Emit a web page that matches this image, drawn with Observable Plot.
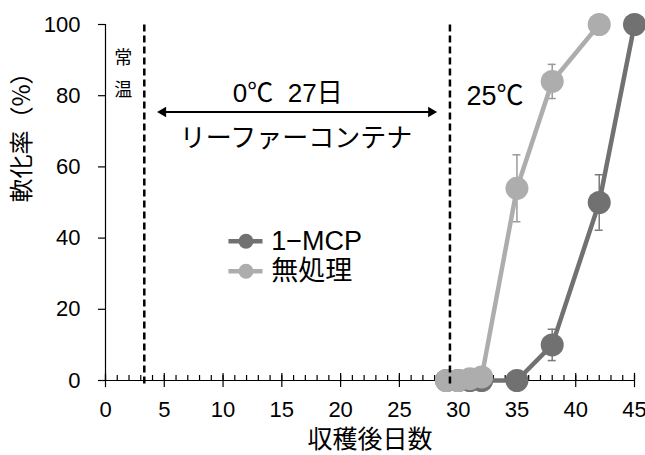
<!DOCTYPE html>
<html>
<head>
<meta charset="utf-8">
<script src="https://cdn.jsdelivr.net/npm/d3@7"></script>
<script src="https://cdn.jsdelivr.net/npm/@observablehq/plot@0.6"></script>
<style>
  html, body { margin: 0; padding: 0; background: #fff; }
</style>
</head>
<body>
<div id="chart"></div>
<script>
// ---- data ----
const mcpDays = [29, 30, 31, 32, 35, 38, 42, 45];
const mcpValues = [0, 0, 0, 0, 0, 10, 50, 100];
const mcpErrors = [0, 0, 0, 0, 0, 4.4, 7.8, 0];

const ctrlDays = [29, 30, 31, 32, 35, 38, 42];
const ctrlValues = [0, 0, 0.5, 1, 54, 84, 100];
const ctrlErrors = [0, 0, 0, 0, 9.4, 4.8, 0];

const seriesNames = ["1\u2212MCP", "無処理"];
const xTicks = [0, 5, 10, 15, 20, 25, 30, 35, 40, 45];
const xMinorTicks = d3.range(0, 46);
const yTicks = [0, 20, 40, 60, 80, 100];
const dividerDays = [3.3, 29.3];

// annotation anchors (data space)
const labelRoom = {x: 1.5, y1: 90.4, y2: 81.5, t1: "常", t2: "温"};
const label0C = {x: 15.5, y: 80.6, text: "0℃\u00a0\u00a027日"};
const labelReefer = {x: 16.2, y: 68, text: "リーファーコンテナ"};
const label25C = {x: 30.7, y: 79.8, text: "25℃"};
const arrowSpan = {x1: 4.9, x2: 27.7, y: 75.4};
const legendRows = [{y: 39.1}, {y: 30.7}];
const legendX = {x1: 10.5, x2: 13.4, dot: 11.95, text: 14.1};

const colors = ["#717171", "#adadad"];
const errColors = ["#7a7a7a", "#9a9a9a"];

const mcp = mcpDays.map((d, i) => ({day: d, v: mcpValues[i], e: mcpErrors[i]}));
const ctrl = ctrlDays.map((d, i) => ({day: d, v: ctrlValues[i], e: ctrlErrors[i]}));

function errMarks(data, color) {
  const eb = data.filter(d => d.e > 0).map(d => ({day: d.day, lo: d.v - d.e, hi: d.v + d.e}));
  return [
    Plot.ruleX(eb, {x: "day", y1: "lo", y2: "hi", stroke: color, strokeWidth: 1.5}),
    Plot.ruleY(eb, {y: "hi", x1: "day", x2: "day", insetLeft: -4, insetRight: -4, stroke: color, strokeWidth: 1.5}),
    Plot.ruleY(eb, {y: "lo", x1: "day", x2: "day", insetLeft: -4, insetRight: -4, stroke: color, strokeWidth: 1.5})
  ];
}

const font = "'Liberation Sans', Arial, 'Noto Sans CJK JP', sans-serif";
const cjk = "'Noto Sans CJK JP', 'Liberation Sans', sans-serif";

const chart = Plot.plot({
  width: 645,
  height: 455,
  marginLeft: 105,
  marginRight: 11,
  marginTop: 24,
  marginBottom: 75,
  style: {fontFamily: font, fontSize: "22px", color: "#000", background: "#fff"},
  x: {domain: [0, 45]},
  y: {domain: [0, 100]},
  marks: [
    // axes
    Plot.axisY(yTicks, {tickSize: 7, tickPadding: 18, fontSize: 22, label: null, stroke: "#000", strokeWidth: 1.2}),
    Plot.axisX(xTicks, {tickSize: 0, tickPadding: 21, fontSize: 22, label: null}),
    Plot.ruleX([0], {y1: 0, y2: 100, stroke: "#000", strokeWidth: 1.2}),
    Plot.ruleY([0], {x1: 0, x2: 45, stroke: "#000", strokeWidth: 1.2}),
    Plot.ruleX(xMinorTicks, {y1: 0, y2: 1.4, stroke: "#000", strokeWidth: 1.2}),
    Plot.ruleX(xTicks, {y1: -2, y2: 2, stroke: "#000", strokeWidth: 1.2}),
    // axis titles
    Plot.text(["軟化率（%）"], {frameAnchor: "left", dx: -83, rotate: -90, fontSize: 24, fontFamily: cjk}),
    Plot.text(["収穫後日数"], {frameAnchor: "bottom", lineAnchor: "middle", dy: 59, fontSize: 25, fontFamily: cjk}),
    // error bars
    ...errMarks(mcp, errColors[0]),
    ...errMarks(ctrl, errColors[1]),
    // series
    Plot.line(mcp, {x: "day", y: "v", stroke: colors[0], strokeWidth: 4.5}),
    Plot.dot(mcp, {x: "day", y: "v", r: 11.5, fill: colors[0]}),
    Plot.line(ctrl, {x: "day", y: "v", stroke: colors[1], strokeWidth: 4.5}),
    Plot.dot(ctrl, {x: "day", y: "v", r: 11.5, fill: colors[1]}),
    // dividers
    Plot.ruleX(dividerDays, {y1: -1, y2: 100, stroke: "#000", strokeWidth: 2.5, strokeDasharray: "7,4"}),
    // annotations
    Plot.text([labelRoom.t1], {x: labelRoom.x, y: labelRoom.y1, fontSize: 18, fontFamily: cjk}),
    Plot.text([labelRoom.t2], {x: labelRoom.x, y: labelRoom.y2, fontSize: 18, fontFamily: cjk}),
    Plot.text([label0C.text], {x: label0C.x, y: label0C.y, fontSize: 26}),
    Plot.text([labelReefer.text], {x: labelReefer.x, y: labelReefer.y, fontSize: 26, fontFamily: cjk}),
    Plot.text([label25C.text], {x: label25C.x, y: label25C.y, fontSize: 27, textAnchor: "start"}),
    Plot.ruleY([arrowSpan.y], {x1: arrowSpan.x1, x2: arrowSpan.x2, stroke: "#000", strokeWidth: 2}),
    Plot.dot([arrowSpan.x1], {x: d => d, y: arrowSpan.y, symbol: "triangle2", r: 5, rotate: -90, fill: "#000"}),
    Plot.dot([arrowSpan.x2], {x: d => d, y: arrowSpan.y, symbol: "triangle2", r: 5, rotate: 90, fill: "#000"}),
    // legend
    Plot.ruleY(legendRows, {y: "y", x1: legendX.x1, x2: legendX.x2, stroke: (d, i) => colors[i], strokeWidth: 4.5}),
    Plot.dot(legendRows, {y: "y", x: legendX.dot, r: 7.5, fill: (d, i) => colors[i]}),
    Plot.text(legendRows, {y: "y", x: legendX.text, text: (d, i) => seriesNames[i], textAnchor: "start", fontSize: 27})
  ]
});
document.getElementById("chart").appendChild(chart);
</script>
</body>
</html>
